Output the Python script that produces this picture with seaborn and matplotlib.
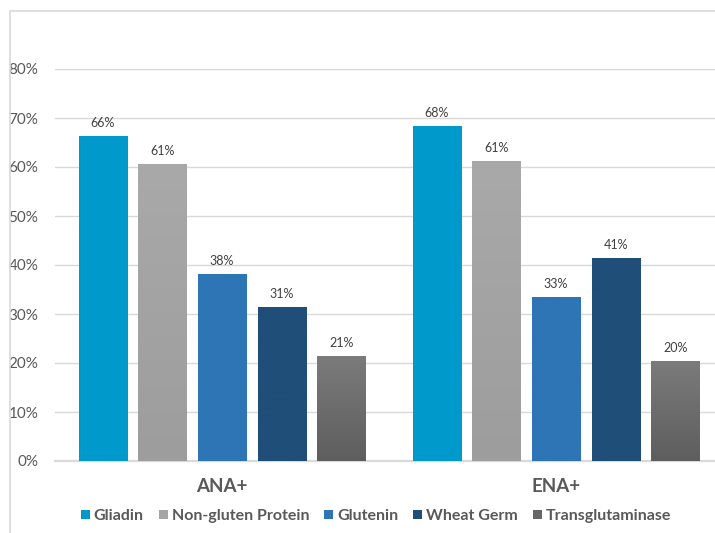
import numpy as np
import pandas as pd
import matplotlib
matplotlib.use("Agg")
import matplotlib.pyplot as plt
from matplotlib.patches import Patch, Rectangle
from matplotlib.colors import LinearSegmentedColormap
import seaborn as sns

# Share of positive patients reacting to each antigen
groups = ["ANA+", "ENA+"]
series = ["Gliadin", "Non-gluten Protein", "Glutenin", "Wheat Germ", "Transglutaminase"]
ana_values = [0.663, 0.607, 0.381, 0.314, 0.214]
ena_values = [0.683, 0.613, 0.334, 0.414, 0.205]
y_ticks = [0.0, 0.1, 0.2, 0.3, 0.4, 0.5, 0.6, 0.7, 0.8]

# top / bottom colour of each series (vertical shading)
top_colors = ["#0099cc", "#a9a9a9", "#2e75b6", "#1f4e79", "#7b7b7b"]
bottom_colors = ["#0099cc", "#9d9d9d", "#2e75b6", "#1f4e79", "#5e5e5e"]
legend_colors = ["#0099cc", "#a5a5a5", "#2e75b6", "#1f4e79", "#666666"]

df = pd.DataFrame({
    "group": np.repeat(groups, len(series)),
    "series": series * len(groups),
    "value": ana_values + ena_values,
})

sns.set_theme(style="white")
plt.rcParams["font.family"] = ["Lato", "DejaVu Sans"]

W, H = 715, 533
fig = plt.figure(figsize=(W / 100, H / 100), dpi=100)
fig.patch.set_facecolor("white")

# chart frame
fig.patches.append(Rectangle((10 / W, -0.05), 1.0, (H - 11) / H + 0.05,
                             transform=fig.transFigure, fill=False,
                             edgecolor="#d9d9d9", linewidth=1.2, zorder=0))

ax = fig.add_axes([55 / W, (H - 461) / H, 660 / W, (461 - 69) / H])

sns.barplot(data=df, x="group", y="value", hue="series", hue_order=series,
            palette=top_colors, width=0.894, gap=0.196, ax=ax,
            legend=False, zorder=3, linewidth=0, saturation=1)

ax.set_ylim(0, 0.8)
ax.set_yticks(y_ticks)
ax.set_yticklabels([f"{int(round(t * 100))}%" for t in y_ticks])
ax.grid(axis="y", color="#d9d9d9", linewidth=1.0, zorder=0)
ax.set_axisbelow(True)
for s in ["top", "right", "left"]:
    ax.spines[s].set_visible(False)
ax.spines["bottom"].set_color("#d9d9d9")
ax.spines["bottom"].set_linewidth(1.6)
ax.tick_params(axis="y", length=0, pad=12, labelsize=11, labelcolor="#595959")
ax.tick_params(axis="x", length=0, pad=12, labelsize=13.5, labelcolor="#595959")
for lbl in ax.get_xticklabels():
    lbl.set_fontweight("bold")
ax.set_xlabel("")
ax.set_ylabel("")

# vertical shading inside each bar and value labels
for i, cont in enumerate(ax.containers):
    cmap = LinearSegmentedColormap.from_list(f"g{i}", [bottom_colors[i], top_colors[i]])
    for bar in cont:
        x0, y0 = bar.get_x(), bar.get_y()
        w, h = bar.get_width(), bar.get_height()
        grad = np.linspace(0, 1, 256).reshape(-1, 1)
        im = ax.imshow(grad, cmap=cmap, origin="lower", aspect="auto",
                       extent=(x0, x0 + w, y0, y0 + h), zorder=3.5)
        im.set_clip_path(bar)
    ax.bar_label(cont, labels=[f"{v * 100:.0f}%" for v in cont.datavalues],
                 padding=5, fontsize=9, color="#404040", zorder=5)

ax.set_xlim(-0.5, 1.476)
ax.set_ylim(0, 0.8)

handles = [Patch(facecolor=c, edgecolor="none") for c in legend_colors]
leg = fig.legend(handles, series, loc="center", bbox_to_anchor=(376 / W, (H - 516) / H),
                 ncol=5, frameon=False, handlelength=0.55, handleheight=0.55,
                 handletextpad=0.25, columnspacing=0.95,
                 prop={"family": ["Lato", "DejaVu Sans"], "weight": "bold", "size": 11.5})
for t in leg.get_texts():
    t.set_color("#595959")

fig.savefig("out.png", dpi=100, facecolor="white")
